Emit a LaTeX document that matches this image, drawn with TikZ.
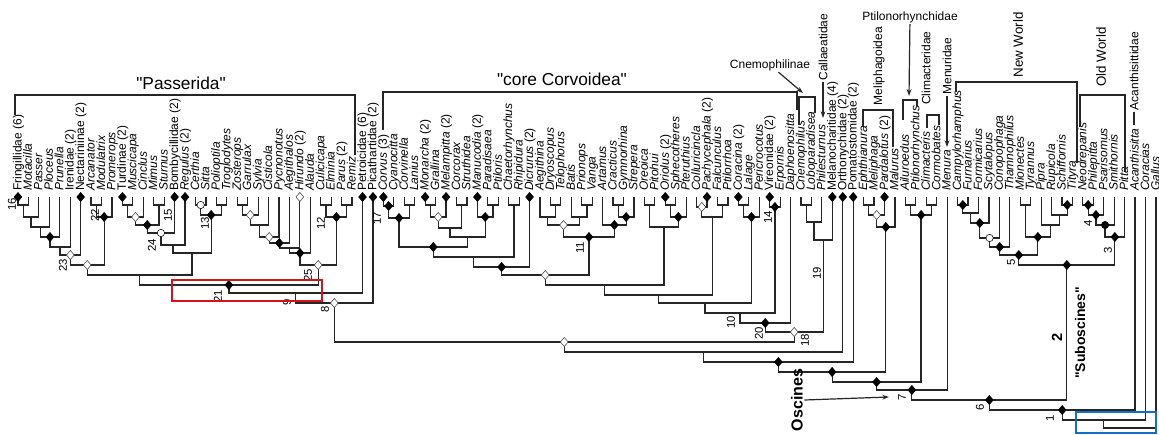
\documentclass[tikz,border=0pt]{standalone}
\usepackage{fontspec}
\setmainfont{Liberation Sans}
\usetikzlibrary{calc, shapes.geometric, arrows.meta}

\definecolor{boxred}{RGB}{210,20,30}
\definecolor{boxblue}{RGB}{20,110,200}

\newcommand{\gen}[1]{\textit{#1}}
\newcommand{\qq}[1]{\textquotedbl#1\textquotedbl}
% clade: name, left child, right child, height of the bar
\newcommand{\clade}[4]{%
  \path (#2) -- (#3) coordinate[pos=0.5] (#1-m);
  \coordinate (#1) at (#1-m |- 0,#4);
  \draw[br] (#2) |- (#1) -| (#3);
}

\begin{document}
\begin{tikzpicture}[
    x=0.75pt, y=-0.75pt, >={Stealth[length=5pt,width=3.5pt]},
    br/.style={line width=0.9pt, draw=black!85},
    grp/.style={line width=1pt, draw=black!85},
    tip/.style={rotate=90, anchor=mid west, inner sep=0pt, font=\fontsize{9}{9}\selectfont},
    num/.style={rotate=90, inner sep=0pt, font=\fontsize{8.5}{9}\selectfont},
    bd/.style={diamond, draw=black, fill=black, inner sep=0pt, minimum width=6pt, minimum height=7pt},
    wd/.style={bd, fill=white, draw=black!75},
    oc/.style={circle, draw=black, fill=white, inner sep=0pt, minimum size=5.5pt},
    bc/.style={oc, fill=black},
    tag/.style={inner sep=1pt, font=\fontsize{9}{10}\selectfont},
    vtag/.style={tag, rotate=90},
    head/.style={inner sep=1pt, font=\fontsize{13}{13}\selectfont},
    big/.style={rotate=90, inner sep=1pt, font=\bfseries\fontsize{12}{12}\selectfont}
]
\useasboundingbox (0,0) rectangle (1159,435);

% tips
\foreach \lab [count=\i] in {
    {Fringillidae (6)}, \gen{Motacilla}, \gen{Passer}, \gen{Ploceus}, \gen{Prunella},
    {Irenidae (2)}, {Nectariniinae (2)}, \gen{Arcanator}, \gen{Modulatrix}, \gen{Promerops},
    {Turdinae (2)}, \gen{Muscicapa}, \gen{Cinclus}, \gen{Mimus}, \gen{Sturnus},
    {Bombycillidae (2)}, {\gen{Regulus} (2)}, \gen{Certhia}, \gen{Sitta}, \gen{Polioptila},
    \gen{Troglodytes}, \gen{Zosterops}, \gen{Garrulax}, \gen{Sylvia}, \gen{Cisticola},
    \gen{Pycnonotus}, \gen{Aegithalos}, {\gen{Hirundo} (2)}, \gen{Alauda}, \gen{Culicicapa},
    \gen{Elminia}, {\gen{Parus} (2)}, \gen{Remiz}, {Petroicidae (6)}, {Picathartidae (2)},
    {\gen{Corvus} (3)}, \gen{Cyanocitta}, \gen{Corvinella}, \gen{Lanius}, {\gen{Monarcha} (2)},
    \gen{Grallina}, {\gen{Melampitta} (2)}, \gen{Corcorax}, \gen{Struthidea}, {\gen{Manucodia} (2)},
    \gen{Paradisaea}, \gen{Ptiloris}, \gen{Chaetorhynchus}, \gen{Rhipidura}, {\gen{Dicrurus} (2)},
    \gen{Aegithina}, \gen{Dryoscopus}, \gen{Telophorus}, \gen{Batis}, \gen{Prionops},
    \gen{Vanga}, \gen{Artamus}, \gen{Cracticus}, \gen{Gymnorhina}, \gen{Strepera},
    \gen{Oreoica}, \gen{Pitohui}, {\gen{Oriolus} (2)}, \gen{Sphecotheres}, \gen{Pteruthius},
    \gen{Colluricincla}, {\gen{Pachycephala} (2)}, \gen{Falcunculus}, \gen{Ptilorrhoa}, {\gen{Coracina} (2)},
    \gen{Lalage}, \gen{Pericrocotus}, {Vireonidae (2)}, \gen{Erpornis}, \gen{Daphoenositta},
    \gen{Cnemophilus}, \gen{Loboparadisea}, \gen{Philesturnus}, {Melanocharitidae (4)}, {Orthonychidae (2)},
    {Pomatostomidae (2)}, \gen{Ephthianura}, \gen{Meliphaga}, {\gen{Pardalotus} (2)}, \gen{Malurus},
    \gen{Ailuroedus}, \gen{Ptilonorhynchus}, \gen{Climacteris}, \gen{Cormobates}, \gen{Menura},
    \gen{Campylorhamphus}, \gen{Furnarius}, \gen{Formicarius}, \gen{Scytalopus}, \gen{Conopophaga},
    \gen{Thamnophilus}, \gen{Mionectes}, \gen{Tyrannus}, \gen{Pipra}, \gen{Rupicola},
    \gen{Schiffornis}, \gen{Tityra}, \gen{Neodrepanis}, \gen{Philepitta}, \gen{Psarisomus},
    \gen{Smithornis}, \gen{Pitta}, \gen{Acanthisitta}, \gen{Coracias}, \gen{Gallus}} {
  \pgfmathsetmacro{\tx}{18+10.44*(\i-1)}
  \coordinate (t\i) at (\tx,197);
  \node[tip] (l\i) at (\tx,191) {\lab};
}

% Passerida
\clade{p1}{t1}{t2}{205}
\clade{p2}{p1}{t3}{217}
\clade{p3}{p2}{t4}{227}
\clade{p4}{p3}{t5}{237}
\clade{p5}{p4}{t6}{247}
\clade{p6}{p5}{t7}{255}
\clade{q1}{t8}{t9}{205}
\clade{q2}{q1}{t10}{217}
\clade{p7}{p6}{q2}{265}
\clade{m1}{t11}{t12}{205}
\clade{m2}{m1}{t13}{217}
\clade{m3}{t14}{t15}{205}
\clade{m4}{m2}{m3}{225}
\clade{m5}{m4}{t16}{233}
\clade{m6}{m5}{t17}{245}
\clade{k1}{t18}{t19}{205}
\clade{k2}{t20}{t21}{205}
\clade{k3}{k1}{k2}{215}
\clade{m7}{m6}{k3}{253}
\clade{p8}{p7}{m7}{275}
\clade{s1}{t22}{t23}{205}
\clade{s2}{s1}{t24}{215}
\clade{s3}{s2}{t25}{225}
\clade{s4}{s3}{t26}{237}
\clade{s5}{s4}{t27}{243}
\clade{s6}{s5}{t28}{248}
\clade{s7}{s6}{t29}{253}
\clade{u1}{t30}{t31}{205}
\clade{u2}{t32}{t33}{205}
\clade{u3}{u1}{u2}{217}
\clade{s8}{s7}{u3}{265}
\clade{r1}{p8}{s8}{285}
\clade{r2}{r1}{t34}{293}
\clade{r3}{r2}{t35}{303}

% core Corvoidea
\clade{c1}{t36}{t37}{206}
\clade{c2}{t38}{t39}{205}
\clade{n1}{c1}{c2}{218}
\clade{c3}{t40}{t41}{205}
\clade{g1}{c3}{t42}{217}
\clade{c4}{t43}{t44}{205}
\clade{g2}{g1}{c4}{228}
\clade{c5}{t46}{t47}{205}
\clade{g3}{t45}{c5}{217}
\clade{g4}{g2}{g3}{237}
\clade{n2}{n1}{g4}{247}
\clade{c6}{t48}{t49}{205}
\clade{n3}{n2}{c6}{257}
\clade{n4}{n3}{t50}{267}
\clade{c7}{t52}{t53}{205}
\clade{v1}{t51}{c7}{217}
\clade{c8}{t55}{t56}{205}
\clade{v2}{t54}{c8}{217}
\clade{v3}{v1}{v2}{225}
\clade{c9}{t58}{t59}{205}
\clade{a1}{c9}{t60}{217}
\clade{a2}{t57}{a1}{225}
\clade{n5}{v3}{a2}{237}
\clade{n6}{n4}{n5}{275}
\clade{c10}{t61}{t62}{205}
\clade{c11}{t63}{t64}{205}
\clade{o1}{c11}{t65}{217}
\clade{o2}{c10}{o1}{227}
\clade{n7}{n6}{o2}{285}
\clade{c12}{t66}{t67}{207}
\clade{c13}{t68}{t69}{205}
\clade{h1}{c12}{c13}{217}
\clade{n8}{n7}{h1}{295}
\clade{c14}{t70}{t71}{205}
\clade{e1}{c14}{t72}{217}
\clade{n9}{n8}{e1}{303}
\clade{c15}{t73}{t74}{207}
\clade{n10}{n9}{c15}{313}
\clade{n20}{n10}{t75}{323}
\clade{c16}{t76}{t77}{205}
\clade{w1}{c16}{t78}{222}
\clade{n19}{w1}{t79}{240}
\clade{n18}{n20}{n19}{332}

% basal oscines
\clade{b1}{r3}{n18}{342}
\clade{b2}{b1}{t80}{352}
\clade{b3}{b2}{t81}{362}
\clade{f1}{t82}{t83}{205}
\clade{f2}{f1}{t84}{215}
\clade{f3}{f2}{t85}{227}
\clade{b4}{b3}{f3}{372}
\clade{c17}{t86}{t87}{205}
\clade{c18}{t88}{t89}{205}
\clade{k4}{c17}{c18}{215}
\clade{b5}{b4}{k4}{382}
\clade{b6}{b5}{t90}{390}

% suboscines
\clade{d1}{t91}{t92}{205}
\clade{d2}{d1}{t93}{213}
\clade{d3}{d2}{t94}{223}
\clade{d4}{d3}{t95}{238}
\clade{d5}{d4}{t96}{247}
\clade{y1}{t97}{t98}{205}
\clade{y2}{t101}{t102}{205}
\clade{y3}{t100}{y2}{215}
\clade{y4}{t99}{y3}{225}
\clade{y5}{y1}{y4}{237}
\clade{d6}{d5}{y5}{255}
\clade{o3}{t103}{t104}{205}
\clade{o4}{o3}{t105}{215}
\clade{o5}{o4}{t106}{225}
\clade{o6}{o5}{t107}{237}
\clade{d7}{d6}{o6}{265}

% root
\clade{b7}{b6}{d7}{400}
\clade{b8}{b7}{t108}{410}
\clade{b9}{b8}{t109}{420}
\clade{b10}{b9}{t110}{428}

% node marks
\foreach \m in {t1,t7,t11,t16,t17,t34,t35,t36,t40,t42,t45,t50,t63,t67,t70,t73,t79,t80,t81,t84,
    p4,q2,m4,k3,s5,s7,u3,r1,c1,n1,g3,n2,n4,a1,a2,n5,o1,e1,c15,n20,
    b3,b4,b5,b6,f3,k4,d1,d3,d5,y2,y5,d6,o3,o4,o6,d7,b7,b8}
  \node[bd] (mk-\m) at (\m) {};
\foreach \m in {t28,p6,p7,m2,s2,s4,s8,r3,g1,v3,n6,c12,n18,b1,f2}
  \node[wd] (mk-\m) at (\m) {};
\foreach \m in {m5,k1,d4}
  \node[oc] (mk-\m) at (\m) {};
\node[bc] (mk-o5) at (o5) {};

% node numbers
\node[num] (nb16) at (12,204) {16};
\node[num] (nb23) at (63,265) {23};
\node[num] (nb22) at (95,215) {22};
\node[num] (nb24) at (152,245) {24};
\node[num] (nb15) at (168,215) {15};
\node[num] (nb13) at (205,223) {13};
\node[num] (nb12) at (321,223) {12};
\node[num] (nb25) at (308,275) {25};
\node[num] (nb21) at (218,296) {21};
\node[num] (nb9) at (287,302) {9};
\node[num] (nb8) at (325,309) {8};
\node[num] (nb17) at (377,218) {17};
\node[num] (nb11) at (580,248) {11};
\node[num] (nb14) at (768,217) {14};
\node[num] (nb10) at (731,322) {10};
\node[num] (nb20) at (759,333) {20};
\node[num] (nb19) at (817,273) {19};
\node[num] (nb18) at (805,340) {18};
\node[num] (nb7) at (902,397) {7};
\node[num] (nb6) at (980,407) {6};
\node[num] (nb1) at (1050,418) {1};
\node[num] (nb5) at (1011,262) {5};
\node[num] (nb4) at (1088,223) {4};
\node[num] (nb3) at (1108,250) {3};
\node[big, font=\bfseries\fontsize{11}{11}\selectfont] (nb2) at (1057,337) {2};

% group brackets and names
\draw[grp] (15,115) |- (355,95) -- (355,155);
\node[head] (pas) at (181,83) {\qq{Passerida}};
\draw[grp] (383,130) |- (797,92) -- (797,110);
\node[head] (cco) at (562,79) {\qq{core Corvoidea}};

\node[tag] (cnem) at (770,65) {Cnemophilinae};
\coordinate (cnem-e) at (803,93);
\draw[->, br] (cnem) -- (cnem-e);
\draw[grp] (799,125) |- (815,97) -- (815,113);

\node[vtag] (call) at (823,47) {Callaeatidae};
\coordinate (call-e) at (823,118);
\draw[->, br] (call) -- (call-e);

\node[vtag] (meli) at (879,66) {Meliphagoidea};
\draw[grp] (863,127) |- (893,110) -- (893,147);

\node[tag] (ptil) at (910,17) {Ptilonorhynchidae};
\coordinate (ptil-e) at (909,96);
\draw[->, br] (ptil) -- (ptil-e);
\draw[grp] (903,120) |- (917,100) -- (917,106);

\node[vtag] (clim) at (926,68) {Climacteridae};
\draw[grp] (927,128) |- (939,115) -- (939,125);

\node[vtag] (menu) at (947,66) {Menuridae};
\coordinate (menu-e) at (947,147);
\draw[->, br] (menu) -- (menu-e);

\node[vtag, font=\fontsize{10}{10}\selectfont] (nw) at (1018,45) {New World};
\draw[grp] (956,92) |- (1077,82) -- (1077,163);
\node[vtag, font=\fontsize{10}{10}\selectfont] (ow) at (1101,57) {Old World};
\draw[grp] (1080,127) |- (1125,95) -- (1125,172);

\node[vtag] (acan) at (1134,71) {Acanthisittidae};
\coordinate (acan-e) at (1134,125);
\draw[br] (acan) -- (acan-e);

% clade names at the base
\node[big] (osc) at (797,400) {Oscines};
\coordinate (osc-e) at (889,397);
\draw[->, br] (osc.south) -- (osc-e);
\node[big, font=\bfseries\fontsize{10.5}{11}\selectfont] (sub) at (1080,333) {\qq{Suboscines}};

% highlight boxes
\draw[boxred, line width=1.5pt] (172,280) rectangle (322,301);
\draw[boxblue, line width=1.5pt] (1076,412) rectangle (1156,433);
\end{tikzpicture}
\end{document}
